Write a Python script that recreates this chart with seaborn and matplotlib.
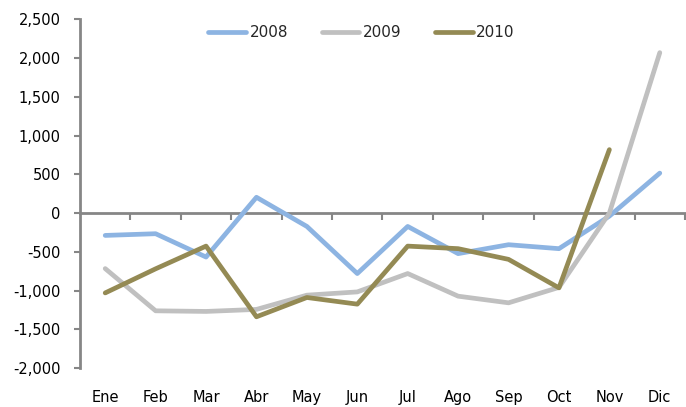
import numpy as np
import pandas as pd
import matplotlib
matplotlib.use("Agg")
import matplotlib.pyplot as plt
from matplotlib.ticker import FuncFormatter
import seaborn as sns

# Data
months = ['Ene', 'Feb', 'Mar', 'Abr', 'May', 'Jun', 'Jul', 'Ago', 'Sep', 'Oct', 'Nov', 'Dic']
vals_2008 = [-289, -267, -568, 203, -173, -781, -173, -524, -409, -460, -40, 515]
vals_2009 = [-717, -1262, -1270, -1244, -1060, -1018, -781, -1073, -1159, -960, 0, 2070]
vals_2010 = [-1031, -720, -427, -1339, -1090, -1176, -427, -460, -598, -966, 818, np.nan]
years = ['2008', '2009', '2010']
palette = {'2008': '#8DB4E2', '2009': '#C0C0C0', '2010': '#948A54'}
yticks = list(range(-2000, 2501, 500))

df = pd.concat([
    pd.DataFrame({'x': np.arange(len(months)), 'value': v, 'year': y})
    for y, v in zip(years, [vals_2008, vals_2009, vals_2010])
], ignore_index=True)

sns.set_style('white')
plt.rcParams['font.family'] = ['DejaVu Sans']
axis_grey = '#868686'

fig = plt.figure(figsize=(6.86, 4.07), dpi=100)
ax = fig.add_axes([80 / 686, 1 - 368 / 407, 605 / 686, (368 - 19.3) / 407])

sns.lineplot(data=df, x='x', y='value', hue='year', palette=palette,
             linewidth=3.4, ax=ax, legend=True, sort=False)
for line in ax.get_lines():
    line.set_solid_capstyle('round')

ax.set_xlim(-0.5, len(months) - 0.5)
ax.set_ylim(yticks[0], yticks[-1])
ax.set_yticks(yticks)
ax.yaxis.set_major_formatter(FuncFormatter(lambda v, p: f'{int(v):,}'))
ax.tick_params(axis='y', direction='out', length=4, width=1.5, color=axis_grey,
               pad=10, labelsize=10.5, labelcolor='#000000', left=True)

# category labels at the bottom, no tick marks there
ax.set_xticks(np.arange(len(months)))
ax.set_xticklabels(months)
ax.tick_params(axis='x', length=0, pad=15.5, labelsize=10.5, labelcolor='#000000')
ax.set_xlabel('')
ax.set_ylabel('')

for s in ['top', 'right', 'bottom']:
    ax.spines[s].set_visible(False)
ax.spines['left'].set_color(axis_grey)
ax.spines['left'].set_linewidth(2)

# zero axis with category boundary ticks
zero_frac = (0 - yticks[0]) / (yticks[-1] - yticks[0])
sec = ax.secondary_xaxis(zero_frac)
sec.set_xticks(np.arange(len(months)) + 0.5)
sec.set_xticklabels([])
sec.tick_params(direction='out', length=5, width=1.5, color=axis_grey)
for s in ['top', 'left', 'right']:
    sec.spines[s].set_visible(False)
sec.spines['bottom'].set_color(axis_grey)
sec.spines['bottom'].set_linewidth(2)

handles, labels = ax.get_legend_handles_labels()
leg = ax.legend(handles, labels, loc='center', bbox_to_anchor=(0.465, 0.961),
                ncol=3, frameon=False, fontsize=11, handlelength=2.48,
                handletextpad=0.2, columnspacing=2.2, borderpad=0)
for h in leg.get_lines():
    h.set_linewidth(3.4)
    h.set_solid_capstyle('round')

fig.savefig('out.png', dpi=100)
